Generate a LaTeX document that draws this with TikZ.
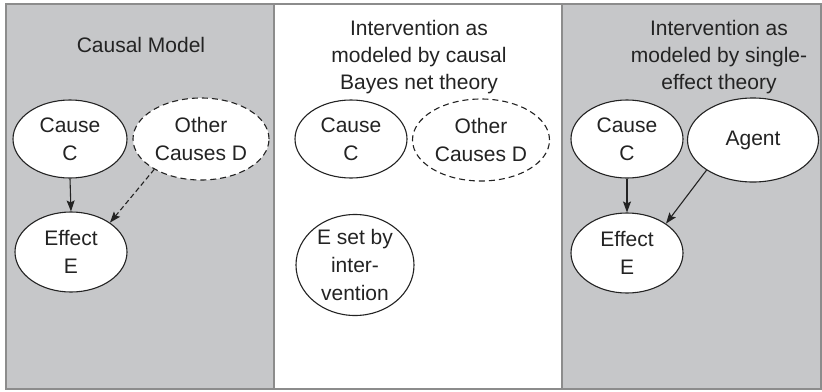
\documentclass[tikz,border=0pt]{standalone}
\usepackage{fontspec}
\setmainfont{Liberation Sans}
\usetikzlibrary{shapes, arrows.meta}

\definecolor{panelgray}{RGB}{198,199,201}
\definecolor{framegray}{RGB}{140,140,140}
\definecolor{inkgray}{RGB}{35,35,35}

\begin{document}
\begin{tikzpicture}[x=1pt, y=-1pt,
        var/.style = {draw=inkgray, line width=1.1pt, ellipse, fill=white, inner sep=0pt,
            align=center, text=inkgray, font=\fontsize{21}{28}\selectfont},
        hidden/.style = {var, dash pattern=on 6pt off 4pt},
        link/.style = {-{Stealth[length=11pt, width=8pt, inset=2pt]}, draw=inkgray, line width=1.1pt},
        title/.style = {align=center, text=inkgray, font=\fontsize{21}{27}\selectfont}]
        \useasboundingbox (0,0) rectangle (822,391);

        % panels
        \draw[framegray, line width=1.2pt, fill=panelgray] (6,4) rectangle (274,389);
        \draw[framegray, line width=1.2pt, fill=white] (274,4) rectangle (562,389);
        \draw[framegray, line width=1.2pt, fill=panelgray] (562,4) rectangle (821,389);

        % causal model
        \node[title, anchor=base] at (141,52) (tL) {Causal Model};
        \node[var, minimum width=114, minimum height=78] at (70,139) (causeL) {Cause\\C};
        \node[hidden, minimum width=136, minimum height=82] at (201,139) (otherL) {Other\\Causes D};
        \node[var, minimum width=112, minimum height=80] at (71,252) (effectL) {Effect\\E};

        \draw [link] (causeL.south) -- (effectL.north);
        \draw [link, dash pattern=on 5pt off 3pt] (otherL.213) -- (effectL.37);

        % causal Bayes net theory
        \node[title, anchor=north] at (419,17) (tM) {Intervention as\\modeled by causal\\Bayes net theory};
        \node[var, minimum width=112, minimum height=78] at (351,139) (causeM) {Cause\\C};
        \node[hidden, minimum width=137, minimum height=82] at (481,140) (otherM) {Other\\Causes D};
        \node[var, minimum width=118, minimum height=100] at (355,265) (esetM) {E set by\\inter-\\vention};

        % single-effect theory
        \node[title, anchor=north] at (719,17) (tR) {Intervention as\\modeled by single-\\effect theory};
        \node[var, minimum width=112, minimum height=78] at (627,139) (causeR) {Cause\\C};
        \node[var, minimum width=131, minimum height=84] at (753,140) (agentR) {Agent};
        \node[var, minimum width=112, minimum height=80] at (627,253) (effectR) {Effect\\E};

        \draw [link] (causeR.south) -- (effectR.north);
        \draw [link] (agentR.213) -- (effectR.37);
\end{tikzpicture}
\end{document}
